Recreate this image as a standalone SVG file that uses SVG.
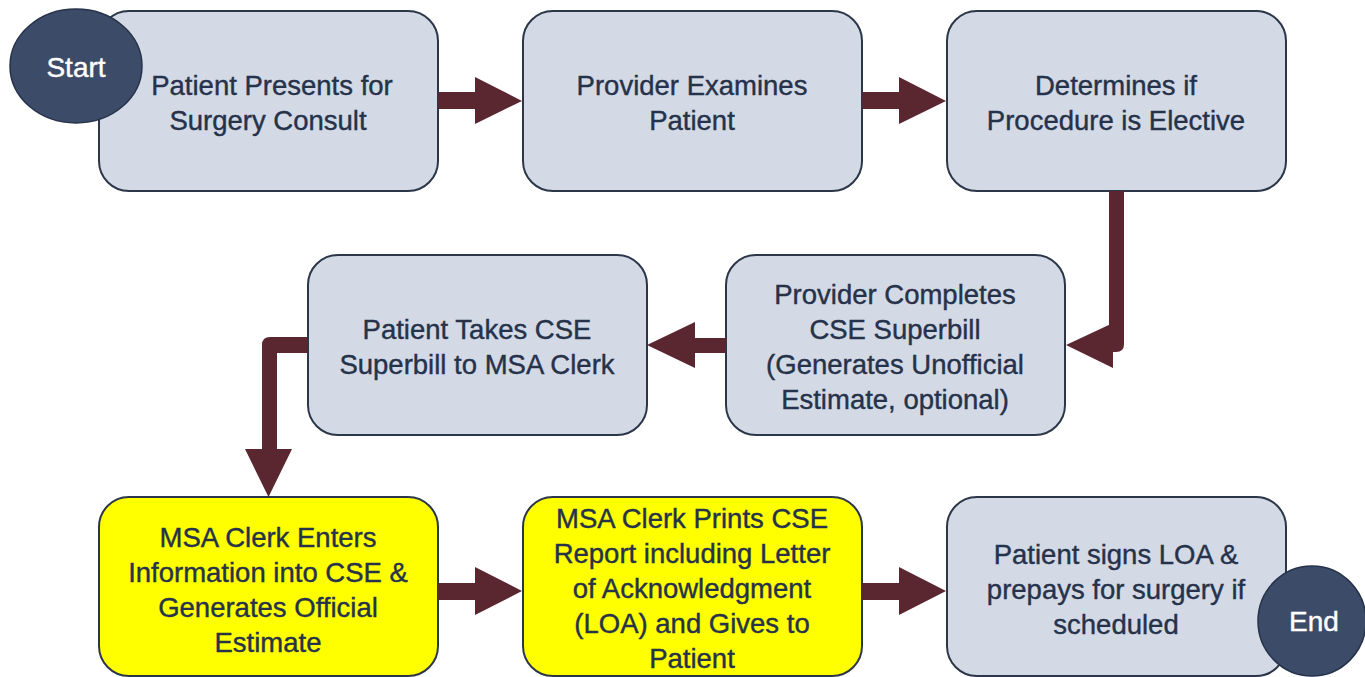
<svg xmlns="http://www.w3.org/2000/svg" width="1365" height="677" viewBox="0 0 1365 677">
<style>
.box{fill:#d3dae6;stroke:#2b3649;stroke-width:2}
.yel{fill:#ffff00;stroke:#2b3649;stroke-width:2}
.t{font-family:"Liberation Sans",Arial,sans-serif;font-size:27.5px;fill:#26324a;stroke:#26324a;stroke-width:0.4;text-anchor:middle}
.term{fill:#3c4c68;stroke:#26324a;stroke-width:1.5}
.tw{font-family:"Liberation Sans",Arial,sans-serif;font-size:28px;fill:#ffffff;stroke:#ffffff;stroke-width:0.4;text-anchor:middle}
.arr{fill:#5a2630}
</style>
<rect width="1365" height="677" fill="#ffffff"/>
<g id="n1"><rect class="box" x="99" y="11" width="339" height="180" rx="30"/>
<text class="t" x="272" y="95">Patient Presents for</text><text class="t" x="268" y="130">Surgery Consult</text></g>
<g id="n2"><rect class="box" x="523" y="11" width="339" height="180" rx="30"/>
<text class="t" x="692" y="95">Provider Examines</text><text class="t" x="692" y="130">Patient</text></g>
<g id="n3"><rect class="box" x="947" y="11" width="339" height="180" rx="30"/>
<text class="t" x="1116" y="95">Determines if</text><text class="t" x="1116" y="130">Procedure is Elective</text></g>
<g id="n4"><rect class="box" x="726" y="255" width="339" height="180" rx="30"/>
<text class="t" x="895" y="304">Provider Completes</text><text class="t" x="895" y="339">CSE Superbill</text><text class="t" x="895" y="374">(Generates Unofficial</text><text class="t" x="895" y="409">Estimate, optional)</text></g>
<g id="n5"><rect class="box" x="308" y="255" width="339" height="180" rx="30"/>
<text class="t" x="477" y="339">Patient Takes CSE</text><text class="t" x="477" y="374">Superbill to MSA Clerk</text></g>
<g id="n6"><rect class="yel" x="99" y="497" width="339" height="179" rx="30"/>
<text class="t" x="268" y="547">MSA Clerk Enters</text><text class="t" x="268" y="582">Information into CSE &amp;</text><text class="t" x="268" y="617">Generates Official</text><text class="t" x="268" y="652">Estimate</text></g>
<g id="n7"><rect class="yel" x="523" y="497" width="339" height="179" rx="30"/>
<text class="t" x="692" y="528">MSA Clerk Prints CSE</text><text class="t" x="692" y="563">Report including Letter</text><text class="t" x="692" y="598">of Acknowledgment</text><text class="t" x="692" y="633">(LOA) and Gives to</text><text class="t" x="692" y="668">Patient</text></g>
<g id="n8"><rect class="box" x="947" y="497" width="339" height="179" rx="30"/>
<text class="t" x="1116" y="564">Patient signs LOA &amp;</text><text class="t" x="1116" y="599">prepays for surgery if</text><text class="t" x="1116" y="634">scheduled</text></g>
<g id="connectors">
<path class="arr" d="M438,92 H475 V77 L522,101 L475,124 V109 H438 Z"/>
<path class="arr" d="M862,92 H899 V77 L946,101 L899,124 V109 H862 Z"/>
<path class="arr" d="M1109,191 H1124 V344 Q1124,352 1116,352 H1113 V368 L1066,345 L1113,323 V337 H1109 Z"/>
<path class="arr" d="M726,338 H695 V322 L647,345 L695,368 V353 H726 Z"/>
<path class="arr" d="M308,337 V353 H277 V449 H292 L268.5,497 L245,449 H262 V345 Q262,337 270,337 Z"/>
<path class="arr" d="M438,583 H475 V567 L522,591 L475,615 V600 H438 Z"/>
<path class="arr" d="M862,583 H899 V567 L946,591 L899,615 V600 H862 Z"/>
</g>
<g id="start"><ellipse class="term" cx="76" cy="66" rx="66" ry="57"/><text class="tw" x="76" y="77">Start</text></g>
<g id="end"><ellipse class="term" cx="1312" cy="621" rx="54" ry="55"/><text class="tw" x="1314" y="631">End</text></g>
</svg>
